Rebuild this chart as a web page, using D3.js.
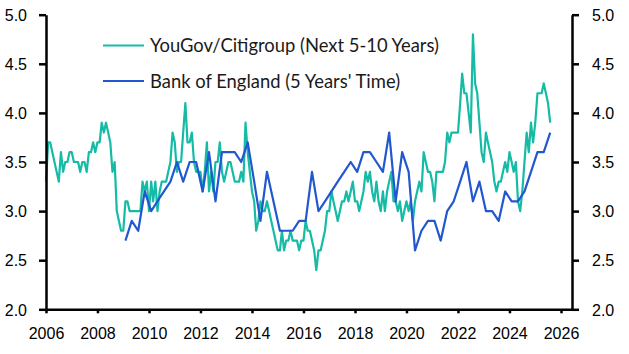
<!DOCTYPE html>
<html>
<head>
<meta charset="utf-8">
<script src="https://cdn.jsdelivr.net/npm/d3@7"></script>
<style>
    body { margin: 0; background: #fff; }
    svg { display: block; font-family: Lato, "Noto Sans", sans-serif; }
    .axis path, .axis line { stroke: #000; stroke-width: 2.5; }
    .axis text { font-size: 16px; fill: #000; }
    .legend text { font-size: 18.4px; fill: #1a1a1a; }
</style>
</head>
<body>
<div id="chart"></div>
<script>
// YouGov/Citigroup, monthly from Jan 2006 (one row per year)
const yougovStart = "2006-01";
const yougov = [
    3.3, 3.7, 3.7, 3.6, 3.5, 3.4, 3.3, 3.6, 3.4, 3.5, 3.5, 3.6,
    3.6, 3.5, 3.5, 3.5, 3.4, 3.5, 3.5, 3.4, 3.6, 3.6, 3.7, 3.6,
    3.7, 3.7, 3.9, 3.8, 3.9, 3.8, 3.7, 3.4, 3.5, 3.0, 2.9, 2.8,
    2.8, 3.1, 3.1, 3.0, 3.0, 3.0, 3.0, 3.0, 3.0, 3.3, 3.2, 3.3,
    3.0, 3.3, 3.1, 3.3, 3.0, 3.2, 3.3, 3.3, 3.3, 3.4, 3.5, 3.8,
    3.7, 3.4, 3.5, 3.5, 3.8, 4.1, 3.7, 3.7, 3.8, 3.5, 3.4, 3.4,
    3.4, 3.2, 3.4, 3.7, 3.2, 3.4, 3.2, 3.5, 3.5, 3.7, 3.4, 3.3,
    3.4, 3.5, 3.5, 3.4, 3.3, 3.3, 3.3, 3.4, 3.3, 3.9, 3.6, 3.4,
    3.2, 3.1, 2.8, 2.9, 3.1, 3.0, 3.0, 3.1, 3.0, 2.9, 2.8, 2.7,
    2.6, 2.6, 2.8, 2.6, 2.7, 2.7, 2.8, 2.7, 2.7, 2.7, 2.6, 2.7,
    2.7, 2.9, 2.8, 2.8, 2.7, 2.6, 2.4, 2.6, 2.6, 2.7, 2.8, 3.0,
    3.0, 3.2, 3.1, 3.0, 2.9, 3.0, 3.1, 3.1, 3.2, 3.1, 3.2, 3.3,
    3.1, 3.1, 3.0, 3.1, 3.2, 3.4, 3.3, 3.4, 3.2, 3.1, 3.3, 3.1,
    3.0, 3.2, 3.0, 3.2, 3.3, 3.4, 3.1, 3.1, 3.0, 3.1, 2.9, 3.0,
    3.1, 3.0, 3.1, 2.9, 3.1, 3.2, 3.3, 3.2, 3.6, 3.5, 3.4, 3.4,
    3.3, 3.1, 3.4, 3.4, 3.4, 3.4, 3.5, 3.8, 3.7, 3.8, 3.8, 3.8,
    3.8, 4.1, 4.4, 4.2, 4.2, 4.0, 3.8, 4.8, 4.3, 4.2, 3.9, 3.6,
    3.5, 3.8, 3.7, 3.6, 3.5, 3.3, 3.2, 3.3, 3.3, 3.4, 3.5, 3.4,
    3.6, 3.5, 3.4, 3.5, 3.1, 3.0, 3.2, 3.5, 3.8, 3.6, 3.9, 3.7,
    3.9, 4.2, 4.2, 4.2, 4.3, 4.2, 4.1, 3.9
];

// Bank of England / Ipsos, quarterly (Feb, May, Aug, Nov) from Feb 2009
const boeStart = "2009-02";
const boe = [
    2.7, 2.9, 2.8, 3.2,
    3.0, 3.1, 3.2, 3.3,
    3.5, 3.3, 3.5, 3.5,
    3.2, 3.6, 3.1, 3.6,
    3.6, 3.6, 3.5, 3.7,
    3.3, 2.9, 3.4, 3.1,
    2.8, 2.8, 2.8, 2.9,
    2.9, 3.4, 3.0, 3.1,
    3.2, 3.3, 3.4, 3.5,
    3.4, 3.6, 3.6, 3.5,
    3.4, 3.8, 3.1, 3.6,
    3.4, 2.6, 2.8, 2.9,
    2.9, 2.7, 3.0, 3.1,
    3.3, 3.5, 3.1, 3.3,
    3.0, 3.0, 2.9, 3.2,
    3.1, 3.1, 3.2, 3.4,
    3.6, 3.6, 3.8
];

const seriesNames = ["YouGov/Citigroup (Next 5-10 Years)", "Bank of England (5 Years' Time)"];
const seriesColors = ["#16bba6", "#2157cf"];
const yTicks = [2.0, 2.5, 3.0, 3.5, 4.0, 4.5, 5.0];
const xTickYears = [2006, 2008, 2010, 2012, 2014, 2016, 2018, 2020, 2022, 2024, 2026];

const chartSettings = {
    width: 629,
    height: 354,
    left: 46,
    right: 572,
    top: 14.7,
    bottom: 309.3,
    x2026: 561,
    lineWidth: 2.2,
};

const parseMonth = d3.timeParse("%Y-%m");

const toPoints = (start, step, values) => values.map((v, i) => ({
    date: d3.timeMonth.offset(parseMonth(start), i * step),
    value: v,
}));

const series = [
    toPoints(yougovStart, 1, yougov),
    toPoints(boeStart, 3, boe),
];

const x = d3.scaleTime()
    .domain([new Date(2006, 0, 1), new Date(2026, 0, 1)])
    .range([chartSettings.left, chartSettings.x2026]);

// axis line runs on past 2026 to meet the right-hand axis
const xAxisScale = x.copy()
    .domain([x.domain()[0], x.invert(chartSettings.right)])
    .range([chartSettings.left, chartSettings.right]);

const y = d3.scaleLinear()
    .domain([2, 5])
    .range([chartSettings.bottom, chartSettings.top]);

const svg = d3.select("#chart").append("svg")
    .attr("width", chartSettings.width)
    .attr("height", chartSettings.height);

const line = d3.line()
    .x((d) => x(d.date))
    .y((d) => y(d.value));

svg.append("g")
    .selectAll("path")
    .data(series)
    .join("path")
    .attr("fill", "none")
    .attr("stroke", (d, i) => seriesColors[i])
    .attr("stroke-width", chartSettings.lineWidth)
    .attr("stroke-linejoin", "round")
    .attr("d", line);

const fmt = d3.format(".1f");

svg.append("g")
    .attr("class", "axis")
    .attr("transform", `translate(${chartSettings.left},0)`)
    .call(d3.axisLeft(y).tickValues(yTicks).tickFormat(fmt).tickSize(7).tickSizeOuter(0).tickPadding(12))
    .call((g) => g.selectAll("text").attr("dy", "0.36em"));

svg.append("g")
    .attr("class", "axis")
    .attr("transform", `translate(${chartSettings.right},0)`)
    .call(d3.axisRight(y).tickValues(yTicks).tickFormat(fmt).tickSize(7).tickSizeOuter(0).tickPadding(13))
    .call((g) => g.selectAll("text").attr("dy", "0.36em"));

svg.append("g")
    .attr("class", "axis")
    .attr("transform", `translate(0,${chartSettings.bottom})`)
    .call(d3.axisBottom(xAxisScale)
        .tickValues(xTickYears.map((yr) => new Date(yr, 0, 1)))
        .tickFormat(d3.timeFormat("%Y"))
        .tickSize(4)
        .tickSizeOuter(0)
        .tickPadding(14));

// legend
const legend = svg.append("g").attr("class", "legend");
const legendRows = legend.selectAll("g")
    .data(seriesNames)
    .join("g")
    .attr("transform", (d, i) => `translate(103,${45.5 + i * 35.5})`);

legendRows.append("line")
    .attr("x1", 0)
    .attr("x2", 41)
    .attr("stroke", (d, i) => seriesColors[i])
    .attr("stroke-width", 2.2);

legendRows.append("text")
    .attr("x", 47)
    .attr("dy", "0.36em")
    .text((d) => d);
</script>
</body>
</html>
